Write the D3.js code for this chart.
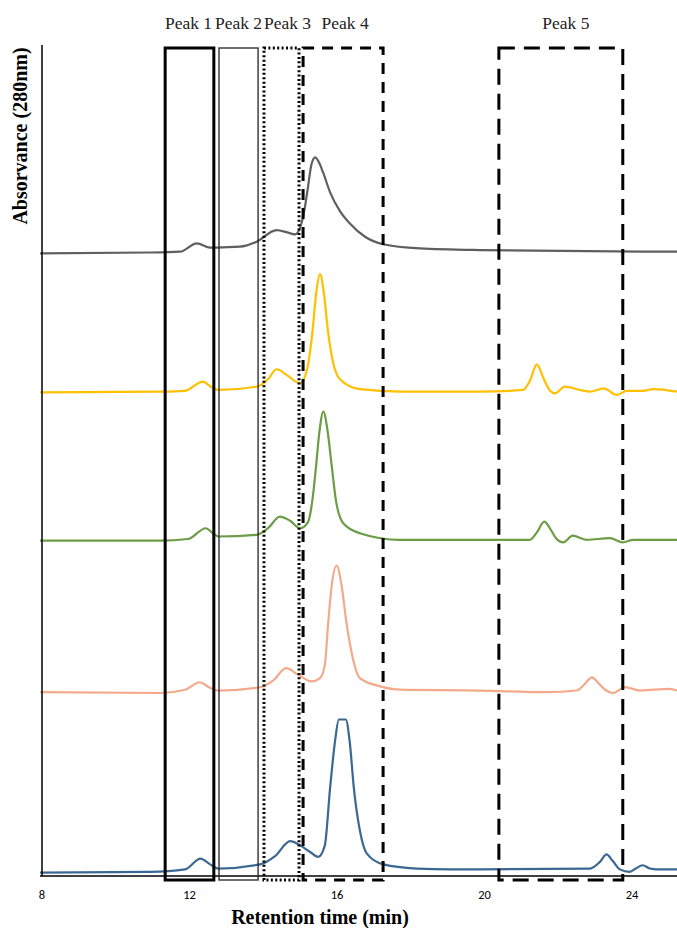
<!DOCTYPE html>
<html>
<head>
<meta charset="utf-8">
<script src="https://cdn.jsdelivr.net/npm/d3@7"></script>
<style>
  body { margin: 0; background: #fff; }
  svg { display: block; }
</style>
</head>
<body>
<svg id="chart"></svg>
<script>
// Retention time (min) and height above each trace's own baseline (mAU)
const grayTime = [7.95, 10.93, 11.74, 12.20, 12.56, 12.74, 13.37, 13.82, 14.36, 14.67, 14.86, 15.08, 15.20, 15.31, 15.41, 15.51, 15.62, 15.81, 16.08, 16.35, 16.76, 17.25, 18.25, 19.88, 25.22];
const grayAbs = [0, 1, 2, 12, 7, 7, 8, 14, 28, 25, 23, 44, 76, 108, 116, 110, 98, 74, 51, 36, 20, 11, 6, 4, 2];

const yellowTime = [7.95, 11.20, 11.88, 12.36, 12.61, 12.78, 13.82, 14.13, 14.36, 14.67, 15.00, 15.19, 15.34, 15.43, 15.54, 15.65, 15.75, 15.89, 16.08, 16.62, 17.71, 19.88, 21.05, 21.23, 21.42, 21.59, 21.78, 21.91, 22.18, 22.59, 22.86, 23.24, 23.58, 23.86, 24.30, 24.57, 25.22];
const yellowAbs = [-1, 0, 1, 12, 5, 2, 6, 15, 27, 19, 10, 27, 75, 117, 142, 117, 75, 36, 15, 3, 0, 0, 2, 13, 33, 17, 1, -2, 6, 2, 0, 4, -4, 1, 1, 3, 0];

const greenTime = [7.95, 11.20, 11.96, 12.44, 12.66, 12.78, 13.82, 14.13, 14.45, 14.73, 15.00, 15.21, 15.35, 15.43, 15.53, 15.63, 15.74, 15.86, 15.97, 16.17, 16.62, 17.71, 19.88, 21.23, 21.42, 21.62, 21.80, 21.94, 22.14, 22.39, 22.77, 23.40, 23.75, 24.04, 25.22];
const greenAbs = [0, 0, 2, 15, 8, 5, 7, 15, 29, 24, 15, 22, 55, 89, 134, 156, 134, 89, 49, 21, 9, 1, 1, 1, 10, 23, 13, 3, -2, 6, 1, 3, -2, 1, 1];

const salmonTime = [7.95, 11.20, 11.88, 12.28, 12.53, 12.78, 13.91, 14.29, 14.62, 14.95, 15.31, 15.54, 15.67, 15.76, 15.86, 15.99, 16.12, 16.26, 16.41, 16.62, 17.17, 17.71, 19.88, 21.69, 22.50, 22.70, 22.91, 23.11, 23.30, 23.49, 23.81, 24.22, 25.03, 25.22];
const salmonAbs = [-1, -2, 2, 11, 5, 1, 5, 14, 28, 20, 12, 16, 32, 82, 129, 152, 129, 82, 44, 16, 6, 2, 1, -1, 1, 8, 17, 9, 1, -2, 5, 1, 3, 1];

const blueTime = [7.95, 10.93, 11.88, 12.30, 12.56, 12.78, 13.91, 14.32, 14.73, 15.00, 15.27, 15.49, 15.67, 15.81, 15.95, 16.05, 16.14, 16.24, 16.34, 16.46, 16.62, 16.81, 17.26, 18.16, 19.06, 19.88, 22.86, 23.13, 23.31, 23.48, 23.67, 23.94, 24.10, 24.29, 24.49, 24.67, 25.22];
const blueAbs = [-1, 0, 3, 16, 9, 4, 9, 19, 37, 32, 24, 18, 32, 100, 159, 184, 184, 184, 159, 100, 50, 22, 9, 4, 3, 3, 4, 12, 21, 13, 3, 0, 4, 8, 4, 3, 3];

// Stacking offsets of the five traces (mAU), top to bottom
const traceOffsets = [752, 585, 405, 223, 5];

// Peak windows (min)
const peakNames = ["Peak 1", "Peak 2", "Peak 3", "Peak 4", "Peak 5"];
const peakStart = [11.34, 12.80, 14.02, 15.08, 20.39];
const peakEnd = [12.66, 13.86, 14.97, 17.25, 23.75];

const xTicks = [8, 12, 16, 20, 24];

const width = 677, height = 928;

const svg = d3.select("#chart")
    .attr("width", width)
    .attr("height", height);

const x = d3.scaleLinear().domain([8, 24]).range([42, 632]);
const y = d3.scaleLinear().domain([0, 1000]).range([876, 48]);

const traces = [
    { time: grayTime, abs: grayAbs, color: "#5f5f5f" },
    { time: yellowTime, abs: yellowAbs, color: "#ffc000" },
    { time: greenTime, abs: greenAbs, color: "#6c9c45" },
    { time: salmonTime, abs: salmonAbs, color: "#f4aa8a" },
    { time: blueTime, abs: blueAbs, color: "#3b6893" }
];

const line = d3.line()
    .x(d => x(d[0]))
    .y(d => y(d[1]))
    .curve(d3.curveMonotoneX);

// chromatogram traces
traces.forEach((t, i) => {
    const pts = t.time.map((tm, j) => [tm, t.abs[j] + traceOffsets[i]]);
    svg.append("path")
        .datum(pts)
        .attr("fill", "none")
        .attr("stroke", t.color)
        .attr("stroke-width", 2.2)
        .attr("stroke-linejoin", "round")
        .attr("d", line);
});

// axes lines (no tick marks)
svg.append("line")
    .attr("x1", x(8)).attr("x2", x(8))
    .attr("y1", y(1000) - 3).attr("y2", y(0))
    .attr("stroke", "#000").attr("stroke-width", 1.5);

svg.append("line")
    .attr("x1", x(8) - 2).attr("x2", width)
    .attr("y1", y(0)).attr("y2", y(0))
    .attr("stroke", "#000").attr("stroke-width", 1.5);

// peak boxes
const boxStyle = [
    { w: 3, dash: null, color: "#000", shift: -1 },
    { w: 1.3, dash: null, color: "#222", shift: 0 },
    { w: 3, dash: "2,2.4", color: "#000", shift: 6 },
    { w: 3, dash: "11,8", color: "#000", shift: 2 },
    { w: 3, dash: "16,9", color: "#000", shift: 5 }
];

peakNames.forEach((name, i) => {
    const x0 = x(peakStart[i]), x1 = x(peakEnd[i]);
    const s = boxStyle[i];
    svg.append("rect")
        .attr("x", x0)
        .attr("y", y(1000))
        .attr("width", x1 - x0)
        .attr("height", y(0) + 4 - y(1000))
        .attr("fill", "none")
        .attr("stroke", s.color)
        .attr("stroke-width", s.w)
        .attr("stroke-dasharray", s.dash);

    svg.append("text")
        .attr("x", (x0 + x1) / 2 + s.shift)
        .attr("y", 29)
        .attr("text-anchor", "middle")
        .style("font-family", "'Liberation Serif', 'Times New Roman', serif")
        .style("font-size", "17.5px")
        .style("fill", "#222")
        .text(name);
});

// tick labels
svg.selectAll(".tick-label")
    .data(xTicks)
    .enter().append("text")
    .attr("class", "tick-label")
    .attr("x", d => x(d))
    .attr("y", 899)
    .attr("text-anchor", "middle")
    .style("font-family", "Carlito, 'Liberation Sans Narrow', 'Liberation Sans', sans-serif")
    .style("font-size", "12.5px")
    .text(d => d);

// axis titles
svg.append("text")
    .attr("x", 320)
    .attr("y", 924)
    .attr("text-anchor", "middle")
    .style("font-family", "'Liberation Serif', 'Times New Roman', serif")
    .style("font-size", "20px")
    .style("font-weight", "bold")
    .text("Retention time (min)");

svg.append("text")
    .attr("transform", "translate(27,136) rotate(-90)")
    .attr("text-anchor", "middle")
    .style("font-family", "'Liberation Serif', 'Times New Roman', serif")
    .style("font-size", "20px")
    .style("font-weight", "bold")
    .text("Absorvance (280nm)");
</script>
</body>
</html>
